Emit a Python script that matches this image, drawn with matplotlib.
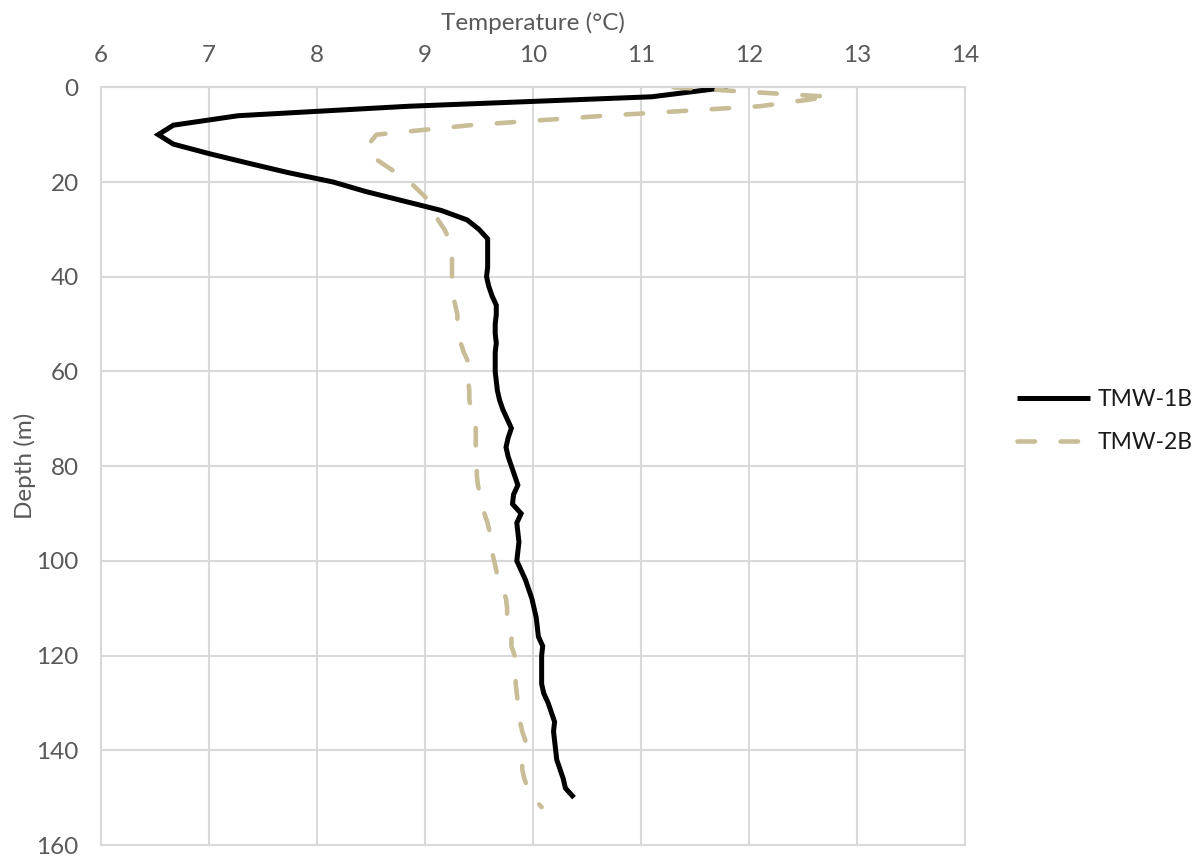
import matplotlib
matplotlib.use("Agg")
import matplotlib.pyplot as plt
from matplotlib.ticker import MultipleLocator

# Temperature profiles (depth in m, temperature in °C)
tmw1b_depth = [0, 1, 2, 4, 6, 8, 10, 12, 14, 16, 18, 20, 22, 24, 26, 28, 30,
               32, 34, 36, 38, 40, 42, 44, 46, 48, 50, 52, 54, 56, 58, 60,
               62, 64, 66, 68, 70, 72, 74, 76, 78, 80, 82, 84, 86, 88, 90,
               92, 94, 96, 98, 100, 102, 104, 106, 108, 110, 112, 114, 116,
               118, 120, 122, 124, 126, 128, 130, 132, 134, 136, 138, 140,
               142, 144, 146, 148, 150]
tmw1b_temp = [11.8, 11.45, 11.1, 8.85, 7.27, 6.67, 6.53, 6.67, 7.0, 7.36,
              7.73, 8.15, 8.45, 8.8, 9.15, 9.39, 9.5, 9.58, 9.58, 9.58, 9.58,
              9.57, 9.59, 9.62, 9.66, 9.66, 9.65, 9.65, 9.66, 9.65, 9.65,
              9.65, 9.66, 9.67, 9.69, 9.72, 9.76, 9.8, 9.77, 9.75, 9.77, 9.8,
              9.83, 9.86, 9.82, 9.81, 9.89, 9.85, 9.86, 9.87, 9.86, 9.85,
              9.89, 9.93, 9.96, 9.99, 10.01, 10.03, 10.04, 10.05, 10.09,
              10.08, 10.08, 10.08, 10.08, 10.1, 10.14, 10.17, 10.2, 10.19,
              10.2, 10.21, 10.22, 10.25, 10.28, 10.3, 10.38]

tmw2b_depth = [0, 2, 4, 6, 8, 10, 12, 14, 16, 18, 20, 22, 24, 26, 28, 30, 32,
               34, 36, 38, 40, 42, 44, 46, 48, 50, 52, 54, 56, 58, 60, 62,
               64, 66, 68, 70, 72, 74, 76, 78, 80, 82, 84, 86, 88, 90, 92,
               94, 96, 98, 100, 102, 104, 106, 108, 110, 112, 114, 116, 118,
               120, 122, 124, 126, 128, 130, 132, 134, 136, 138, 140, 142,
               144, 146, 148, 150, 152]
tmw2b_temp = [11.3, 12.75, 12.1, 10.67, 9.42, 8.55, 8.48, 8.47, 8.6, 8.73,
              8.86, 8.95, 9.04, 9.1, 9.12, 9.18, 9.22, 9.25, 9.25, 9.25, 9.25,
              9.25, 9.26, 9.28, 9.3, 9.3, 9.31, 9.33, 9.36, 9.4, 9.39, 9.4,
              9.41, 9.41, 9.43, 9.45, 9.47, 9.47, 9.47, 9.48, 9.48, 9.48,
              9.49, 9.51, 9.53, 9.55, 9.58, 9.6, 9.62, 9.62, 9.64, 9.66,
              9.68, 9.72, 9.75, 9.76, 9.76, 9.77, 9.8, 9.8, 9.83, 9.84, 9.84,
              9.84, 9.85, 9.86, 9.87, 9.88, 9.9, 9.93, 9.92, 9.9, 9.9, 9.92,
              9.95, 10.0, 10.08]

series_names = ["TMW-1B", "TMW-2B"]

FONT = ["Lato", "DejaVu Sans"]
TICK_COLOR = "#595959"
GRID_COLOR = "#D9D9D9"
FS = 17.5
LEGEND_FS = 16.5

plt.rcParams["font.family"] = FONT

fig = plt.figure(figsize=(11.96, 8.57), dpi=100)
ax = fig.add_axes([101 / 1196, 1 - 845 / 857, (965 - 101) / 1196,
                  (845 - 87.3) / 857])

ax.plot(tmw1b_temp, tmw1b_depth, color="black", lw=3.6,
        solid_joinstyle="miter", solid_capstyle="butt", label=series_names[0])
ax.plot(tmw2b_temp, tmw2b_depth, color="#C8BD97", lw=3.3,
        dashes=(3.8, 5.6), dash_capstyle="round", label=series_names[1])

ax.set_xlim(6, 14)
ax.set_ylim(160, 0)
ax.xaxis.set_major_locator(MultipleLocator(1))
ax.yaxis.set_major_locator(MultipleLocator(20))
ax.xaxis.tick_top()
ax.xaxis.set_label_position("top")
ax.tick_params(length=0, labelsize=FS, labelcolor=TICK_COLOR)
ax.tick_params(axis="x", pad=15)
ax.tick_params(axis="y", pad=16)

ax.grid(True, color=GRID_COLOR, lw=1.5)
ax.set_axisbelow(True)
for sp in ax.spines.values():
    sp.set_color(GRID_COLOR)
    sp.set_linewidth(1.5)

ax.set_xlabel("Temperature (°C)", fontsize=FS, color=TICK_COLOR, labelpad=11)
ax.set_ylabel("Depth (m)", fontsize=FS, color=TICK_COLOR, labelpad=0)

leg = ax.legend(loc="center left", bbox_to_anchor=(1017 / 1196, 1 - 421 / 857),
                bbox_transform=fig.transFigure, frameon=False,
                fontsize=LEGEND_FS, borderpad=0, borderaxespad=0,
                handlelength=3.2, handletextpad=0.3, labelspacing=1.0)
for t in leg.get_texts():
    t.set_color("#1a1a1a")

fig.savefig("out.png", dpi=100)
